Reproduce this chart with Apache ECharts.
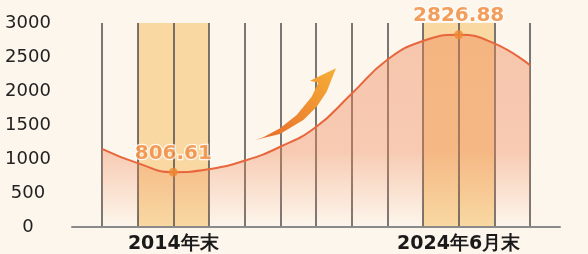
<!DOCTYPE html>
<html>
<head>
<meta charset="utf-8">
<script src="https://cdn.jsdelivr.net/npm/echarts@6/dist/echarts.min.js"></script>
<style>
html,body{margin:0;padding:0;background:#fdf6ec;}
#main{width:588px;height:254px;}
</style>
</head>
<body>
<div id="main"></div>
<script>
var myChart = echarts.init(document.getElementById('main'));

// 横轴：13 根竖线，只标注两个时点
var categories = ['', '', '2014年末', '', '', '', '', '', '', '', '2024年6月末', '', ''];
// 曲线数值（读图估计，标注点为原值）
var values = [1150, 940, 806.61, 850, 975, 1180, 1470, 1960, 2460, 2735, 2826.88, 2700, 2380];
// 需要显示圆点和数值的位置
var markIndex = [2, 10];
// 纵轴刻度
var yMin = 0, yMax = 3000, yStep = 500;
// 高亮色带（类目序号）
var bands = [[1, 3], [9, 11]];

function pointData(){
	var res = [];
	for (var i = 0; i < values.length; i++) {
		res.push(markIndex.indexOf(i) >= 0 ? values[i] : '-');
	}
	return res;
}

function bandData(){
	var res = [];
	for (var i = 0; i < bands.length; i++) {
		res.push([{xAxis: bands[i][0]}, {xAxis: bands[i][1]}]);
	}
	return res;
}

var option = {
	backgroundColor: '#fdf6ec',
	animation: false,
	grid: [
		{left: 102, right: 58, top: 23, bottom: 27},
		{left: 72, right: 28, top: 23, bottom: 27}
	],
	xAxis: [
		{
			type: 'category',
			gridIndex: 0,
			boundaryGap: false,
			data: categories,
			z: 1.5,
			axisLine: {show: false},
			axisTick: {show: false},
			axisLabel: {
				interval: 0,
				margin: 8,
				color: '#1a1a1a',
				fontSize: 19,
				fontWeight: 'bold',
				fontFamily: 'DejaVu Sans'
			},
			splitLine: {show: true, lineStyle: {color: '#4d4d4d', width: 1.5}}
		},
		{
			type: 'value',
			gridIndex: 1,
			min: 0,
			max: 1,
			z: 4,
			axisLine: {show: true, lineStyle: {color: '#8a8a8a', width: 2}},
			axisTick: {show: false},
			axisLabel: {show: false},
			splitLine: {show: false}
		}
	],
	yAxis: [
		{
			type: 'value',
			gridIndex: 0,
			min: yMin,
			max: yMax,
			interval: yStep,
			axisLine: {show: false},
			axisTick: {show: false},
			splitLine: {show: false},
			axisLabel: {
				align: 'center',
				margin: 74,
				color: '#222',
				fontSize: 18,
				fontFamily: 'DejaVu Sans',
				formatter: function (v) { return String(v); }
			}
		},
		{
			type: 'value',
			gridIndex: 1,
			min: 0,
			max: 1,
			show: false
		}
	],
	series: [
		{
			type: 'line',
			data: values,
			smooth: 0.5,
			symbol: 'none',
			z: 2,
			lineStyle: {color: '#e8663c', width: 2},
			areaStyle: {
				color: new echarts.graphic.LinearGradient(0, 0, 0, 1, [
					{offset: 0, color: 'rgba(238,132,84,0.6)'},
					{offset: 0.6, color: 'rgba(238,132,84,0.55)'},
					{offset: 1, color: 'rgba(238,132,84,0)'}
				])
			},
			markArea: {
				silent: true,
				z: 1,
				itemStyle: {color: '#f9d8a2'},
				data: bandData()
			}
		},
		{
			type: 'scatter',
			data: pointData(),
			z: 5,
			symbol: 'circle',
			symbolSize: 9,
			itemStyle: {color: '#ef8a32'},
			label: {
				show: true,
				position: 'top',
				distance: 4,
				color: '#ef8636',
				fontSize: 20,
				fontWeight: 'bold',
				fontFamily: 'DejaVu Sans',
				textBorderColor: '#fff',
				textBorderWidth: 2.5
			}
		}
	],
	// 装饰用的上升箭头
	graphic: [
		{
			type: 'polygon',
			z: 10,
			shape: {
				points: [
					[255, 140], [280, 134], [303.3, 120], [316.7, 106.7], [326.7, 91.7], [330.5, 82],
					[336, 68.3], [310, 80.7], [318.3, 82.7],
					[311.7, 96.7], [296.7, 115], [280, 128.3], [263.3, 137.3]
				],
				smooth: 0
			},
			style: {
				fill: new echarts.graphic.LinearGradient(0, 1, 1, 0, [
					{offset: 0, color: '#e6692c'},
					{offset: 1, color: '#f6ae35'}
				])
			}
		}
	]
};

myChart.setOption(option);
</script>
</body>
</html>
